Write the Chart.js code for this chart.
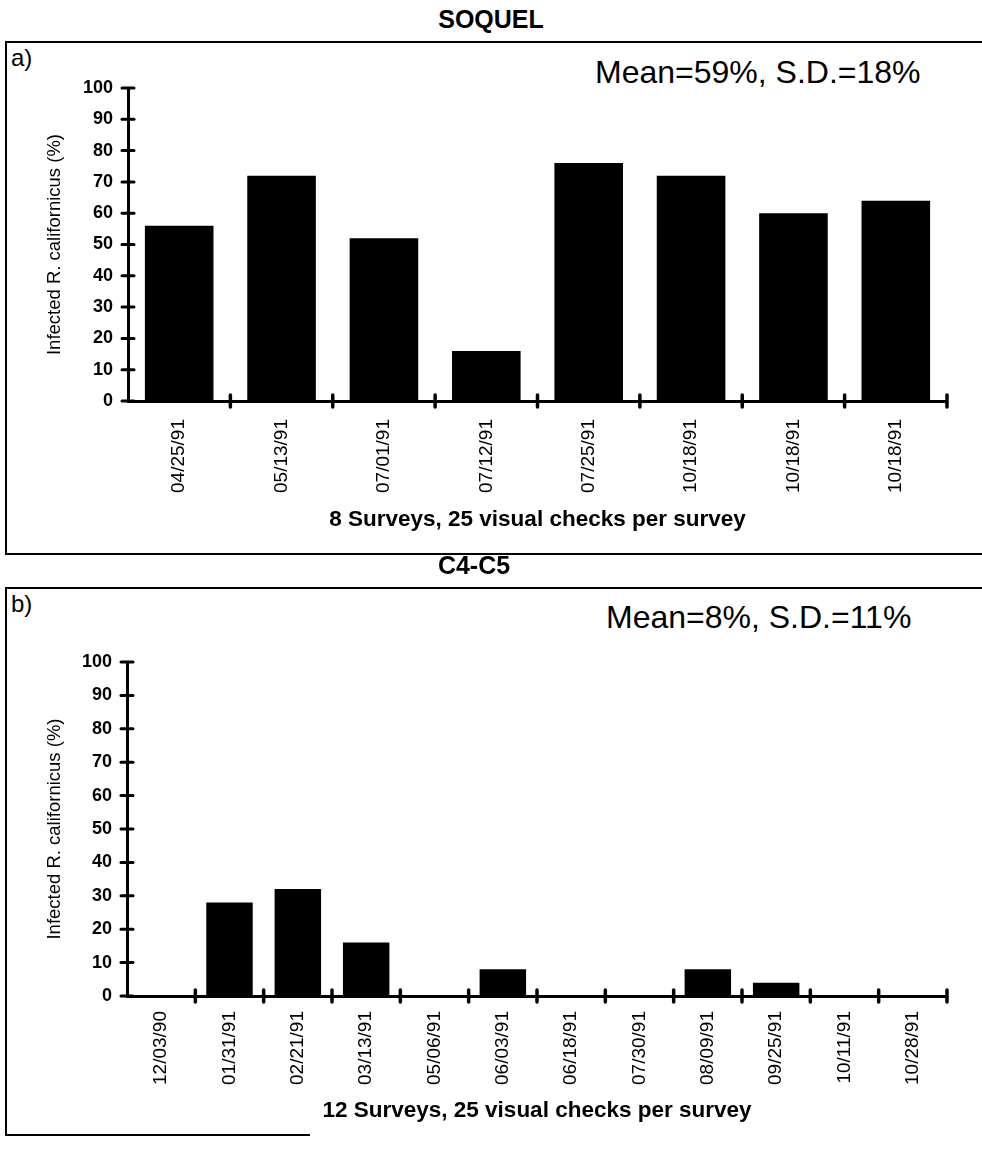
<!DOCTYPE html>
<html>
<head>
<meta charset="utf-8">
<script src="https://cdn.jsdelivr.net/npm/chart.js@4.4.1/dist/chart.umd.min.js"></script>
<style>
  html, body { margin: 0; padding: 0; background: #fff; }
  body { width: 982px; height: 1149px; position: relative; overflow: hidden;
         font-family: 'Liberation Sans', Arial, sans-serif; color: #000; }
  .abs { position: absolute; white-space: nowrap; line-height: 1.15; }
  .site { font-weight: bold; font-size: 25px; transform: translateX(-50%); }
  .panel { font-size: 24px; }
  .stat { font-size: 32px; }
  .line { position: absolute; background: #000; }
  canvas { position: absolute; }
</style>
</head>
<body>
<!-- panel a -->
<div class="abs site" style="left:491px; top:5px;">SOQUEL</div>
<div class="line" style="left:5px; top:41px; width:977px; height:2px;"></div>
<div class="line" style="left:5px; top:41px; width:2px; height:514px;"></div>
<div class="line" style="left:5px; top:553px; width:977px; height:2px;"></div>
<div class="abs panel" style="left:11px; top:44px;">a)</div>
<div class="abs stat" style="left:595px; top:54px;">Mean=59%, S.D.=18%</div>
<canvas id="chartA" width="975" height="510" style="left:7px; top:43px;"></canvas>

<!-- panel b -->
<div class="abs site" style="left:474px; top:551px;">C4-C5</div>
<div class="line" style="left:5px; top:587px; width:977px; height:2px;"></div>
<div class="line" style="left:5px; top:587px; width:2px; height:549px;"></div>
<div class="line" style="left:5px; top:1134px; width:305px; height:2px;"></div>
<div class="abs panel" style="left:11px; top:590px;">b)</div>
<div class="abs stat" style="left:606px; top:599px;">Mean=8%, S.D.=11%</div>
<canvas id="chartB" width="975" height="545" style="left:7px; top:589px;"></canvas>

<script>
// Survey dates and percent of R. californicus infected, Soquel site
const soquelDates = ['04/25/91', '05/13/91', '07/01/91', '07/12/91', '07/25/91', '10/18/91', '10/18/91', '10/18/91'];
const soquelInfected = [56, 72, 52, 16, 76, 72, 60, 64];

// Survey dates and percent infected, C4-C5 site
const c4c5Dates = ['12/03/90', '01/31/91', '02/21/91', '03/13/91', '05/06/91', '06/03/91', '06/18/91', '07/30/91', '08/09/91', '09/25/91', '10/11/91', '10/28/91'];
const c4c5Infected = [0, 28, 32, 16, 0, 8, 0, 0, 8, 4, 0, 0];

const yTicks = [0, 10, 20, 30, 40, 50, 60, 70, 80, 90, 100];
const yTitle = 'Infected R. californicus (%)';

const SANS = "'Liberation Sans', Arial, sans-serif";

// Short cross-marks on both axes, like the hand-drawn tick bars
const crossTicks = {
  id: 'crossTicks',
  afterDraw(chart) {
    const { ctx, scales: { x, y } } = chart;
    const len = 6;
    ctx.save();
    ctx.strokeStyle = '#000';
    ctx.lineWidth = 3;
    ctx.lineCap = 'round';
    const ax = x.left;
    yTicks.forEach(v => {
      const py = y.getPixelForValue(v);
      ctx.beginPath(); ctx.moveTo(ax - len, py); ctx.lineTo(ax + len, py); ctx.stroke();
    });
    const n = x.getLabels().length;
    const step = x.getPixelForValue(1) - x.getPixelForValue(0);
    const base = y.getPixelForValue(0);
    ctx.lineWidth = 3.5;
    for (let i = 1; i <= n; i++) {
      const px = x.getPixelForValue(i - 1) + step / 2;
      ctx.beginPath(); ctx.moveTo(px, base - len); ctx.lineTo(px, base + len); ctx.stroke();
    }
    ctx.restore();
  }
};

function makeChart(id, labels, values, xTitle, geom) {
  return new Chart(document.getElementById(id), {
    type: 'bar',
    data: {
      labels: labels,
      datasets: [{
        data: values,
        backgroundColor: '#000',
        borderWidth: 0,
        barPercentage: geom.bar,
        categoryPercentage: 1.0
      }]
    },
    options: {
      responsive: false,
      animation: false,
      events: [],
      layout: { padding: { left: 0, top: geom.top, right: geom.right, bottom: 0 } },
      plugins: { legend: { display: false }, tooltip: { enabled: false } },
      scales: {
        x: {
          type: 'category',
          offset: true,
          grid: { display: false, drawTicks: false },
          border: { display: true, color: '#000', width: 3 },
          ticks: {
            autoSkip: false, minRotation: 90, maxRotation: 90,
            color: '#000', padding: geom.labelPad,
            font: { family: SANS, size: 19 }
          },
          title: {
            display: true, text: xTitle, color: '#000',
            font: { family: SANS, size: 22.5, weight: 'bold' },
            padding: { top: 4, bottom: geom.titlePad }
          },
          afterFit(s) { s.height = geom.xHeight; }
        },
        y: {
          min: 0, max: 100,
          afterBuildTicks(s) { s.ticks = yTicks.map(v => ({ value: v })); },
          grid: { display: false, drawTicks: false },
          border: { display: true, color: '#000', width: 3 },
          ticks: {
            color: '#000', padding: 15,
            font: { family: SANS, size: 18, weight: 'bold' }
          },
          title: {
            display: true, text: yTitle, color: '#000',
            font: { family: SANS, size: 18.5 },
            padding: { top: 37, bottom: 0 }
          },
          afterFit(s) { s.width = geom.yWidth; }
        }
      }
    },
    plugins: [crossTicks]
  });
}

makeChart('chartA', soquelDates, soquelInfected, '8 Surveys, 25 visual checks per survey',
  { top: 45, right: 35, yWidth: 121, xHeight: 152, labelPad: 18, titlePad: 20, bar: 0.67 });

makeChart('chartB', c4c5Dates, c4c5Infected, '12 Surveys, 25 visual checks per survey',
  { top: 73, right: 35, yWidth: 120, xHeight: 138, labelPad: 15, titlePad: 10, bar: 0.68 });
</script>
</body>
</html>
